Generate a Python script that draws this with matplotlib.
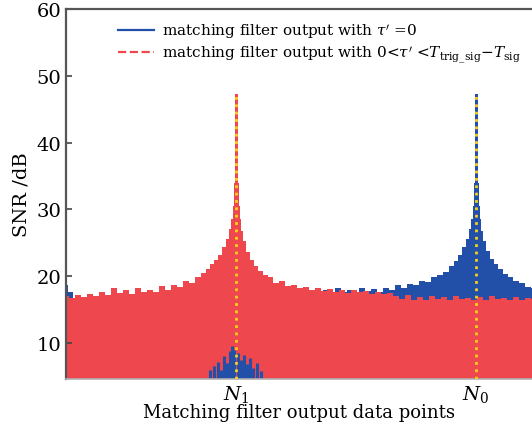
import matplotlib

matplotlib.use("Agg")

import matplotlib.pyplot as plt
from matplotlib.lines import Line2D

plt.rcParams["font.family"] = "DejaVu Serif"
plt.rcParams["mathtext.fontset"] = "dejavuserif"

# matching filter output positions (data point index)
n1 = 680
n0 = 1640
peak_snr = 47.3

# upper envelope of the output with 0 < tau' < T_trig_sig - T_sig
red_x = [0, 24, 48, 72, 96, 120, 144, 168, 192, 216, 240, 264, 288, 312, 336,
         360, 384, 408, 432, 456, 480, 504, 528, 552, 568, 584, 600, 616, 632,
         648, 656, 664, 668, 672, 676, 680, 684, 688, 692, 696, 704, 712, 728,
         744, 760, 776, 796, 816, 840, 864, 888, 912, 936, 960, 984, 1008, 1032,
         1056, 1080, 1104, 1128, 1152, 1176, 1200, 1224, 1248, 1272, 1296, 1320,
         1344, 1368, 1392, 1416, 1440, 1464, 1488, 1512, 1536, 1560, 1584, 1608,
         1632, 1656, 1680, 1704, 1728, 1752, 1776, 1800, 1824, 1848, 1872]
red_snr = [17.0, 16.8, 17.2, 16.9, 17.4, 17.0, 17.6, 17.2, 18.2, 17.5, 17.9,
           17.3, 18.3, 17.6, 18.0, 17.7, 18.5, 18.0, 18.6, 18.4, 19.3, 19.0,
           19.8, 20.5, 21.0, 21.8, 22.4, 23.2, 24.3, 25.6, 27.0, 28.5, 30.5,
           34.0, 47.3, 47.3, 47.3, 34.0, 30.5, 28.5, 26.8, 25.2, 23.6, 22.4,
           21.5, 20.8, 20.2, 19.8, 19.0, 19.2, 18.5, 18.7, 18.2, 18.4, 17.9,
           18.3, 17.8, 18.1, 17.7, 18.0, 17.5, 17.9, 17.6, 17.8, 17.4, 17.7,
           17.3, 17.5, 17.0, 16.6, 17.2, 16.5, 16.9, 16.4, 17.1, 16.6, 16.9,
           16.5, 17.0, 16.6, 16.8, 16.4, 16.9, 16.5, 17.0, 16.6, 16.8, 16.4,
           16.9, 16.5, 16.8, 16.6]

# upper envelope of the output with tau' = 0
blue_x = [0, 16, 40, 80, 160, 240, 320, 400, 480, 560, 640, 720, 800, 880,
          960, 1016, 1040, 1064, 1088, 1112, 1136, 1160, 1184, 1208, 1232, 1256,
          1280, 1304, 1328, 1352, 1376, 1400, 1424, 1448, 1472, 1496, 1520,
          1544, 1560, 1576, 1592, 1604, 1616, 1624, 1628, 1632, 1636, 1640,
          1644, 1648, 1652, 1656, 1664, 1672, 1688, 1704, 1720, 1736, 1756,
          1776, 1800, 1824, 1848, 1872]
blue_snr = [18.6, 17.6, 16.4, 16.6, 16.8, 17.0, 17.1, 17.2, 17.3, 17.2, 16.8,
            17.0, 17.2, 17.3, 17.4, 17.6, 17.9, 17.5, 18.2, 17.7, 18.0, 17.6,
            18.3, 17.8, 18.1, 17.7, 18.3, 18.0, 18.6, 18.3, 18.8, 18.6, 19.3,
            19.1, 19.8, 20.2, 20.6, 21.5, 22.3, 23.2, 24.3, 25.6, 27.0, 28.5,
            30.5, 34.0, 47.3, 47.3, 47.3, 34.0, 30.5, 28.5, 26.8, 25.3, 23.8,
            22.6, 21.8, 21.0, 20.3, 19.8, 19.2, 19.0, 18.4, 18.2]

# low-level residue around N1 for tau' = 0
blue_low_x = [576, 592, 608, 620, 632, 644, 656, 664, 672, 688, 700, 712, 724,
              736, 748, 764, 780]
blue_low_snr = [6.0, 6.5, 7.2, 6.0, 8.0, 7.0, 8.8, 9.5, 9.0, 8.5, 7.5, 8.2,
                6.8, 7.8, 6.2, 7.0, 5.8]

y_floor = 4.6
red_color = "#ee474d"
blue_color = "#2250a8"

fig = plt.figure(figsize=(5.32, 4.31), dpi=100)
ax = fig.add_axes([66 / 532, 51 / 431, 466 / 532, 370 / 431])

ax.fill_between(blue_x, y_floor, blue_snr, step="mid", color=blue_color, linewidth=0)
ax.fill_between(red_x, y_floor, red_snr, step="mid", color=red_color, linewidth=0)
ax.vlines(blue_low_x, y_floor, blue_low_snr, color=blue_color, linewidth=2.2)

for n in (n1, n0):
    ax.plot([n, n], [y_floor, peak_snr], linestyle=":", color="#f7d21a",
            linewidth=2.0, zorder=5)

ax.set_xlim(0, 1864)
ax.set_ylim(y_floor, 60)
ax.set_yticks([10, 20, 30, 40, 50, 60])
ax.set_xticks([n1, n0])
ax.set_xticklabels(["$N_1$", "$N_0$"])
ax.tick_params(axis="both", direction="in", labelsize=14, length=4, width=1.2,
               color="#444444")
ax.tick_params(axis="x", length=0, pad=3)

for side in ("left", "top"):
    ax.spines[side].set_color("#555555")
    ax.spines[side].set_linewidth(1.6)
ax.spines["bottom"].set_color("#b0b0b0")
ax.spines["bottom"].set_linewidth(1.2)
ax.spines["right"].set_visible(False)

ax.set_ylabel("SNR /dB", fontsize=14, labelpad=4)
ax.set_xlabel("Matching filter output data points", fontsize=13, labelpad=-1)

handles = [
    Line2D([], [], color=blue_color, linewidth=1.6),
    Line2D([], [], color=red_color, linewidth=1.6, linestyle="--"),
]
labels = [
    r"matching filter output with $\tau'$ =0",
    r"matching filter output with 0<$\tau'$ <$T_{\mathrm{trig\_sig}}$$-$$T_{\mathrm{sig}}$",
]
ax.legend(handles, labels, loc="upper left", bbox_to_anchor=(0.085, 1.0),
          frameon=False, fontsize=11, handlelength=2.4, handletextpad=0.5,
          labelspacing=0.2, borderaxespad=0.4)

fig.savefig("out.png", dpi=100)
